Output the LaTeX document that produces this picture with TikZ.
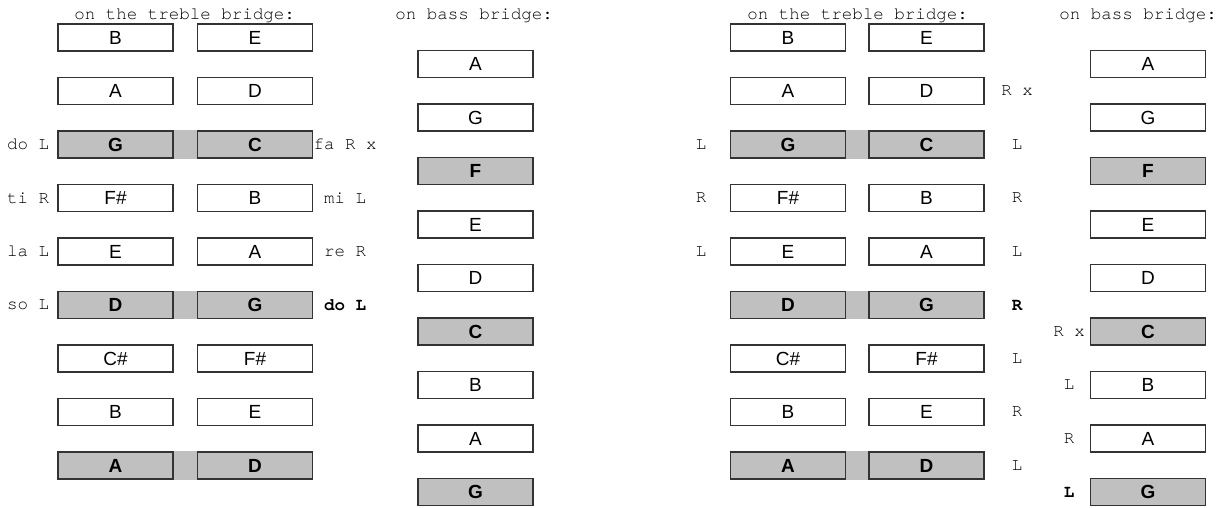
\documentclass[tikz,border=0pt]{standalone}
\usepackage{fontspec}
\setmainfont{Liberation Sans}
\newfontfamily\notefont{TeX Gyre Cursor}
\usetikzlibrary{positioning, backgrounds}
\definecolor{silver}{HTML}{C0C0C0}

\begin{document}
\begin{tikzpicture}[
        x=1pt, y=-1pt,
        node distance=53.5pt, on grid,
        bridgebox/.style={draw=black!80, line width=1.2pt, minimum width=115pt,
            minimum height=27pt, inner sep=0pt, font=\fontsize{19}{19}\selectfont},
        whitebox/.style={bridgebox, fill=white},
        graybox/.style={bridgebox, fill=silver, font=\fontsize{19}{19}\selectfont\bfseries},
        note/.style={inner sep=0pt, font=\notefont\fontsize{17.5}{18}\selectfont},
        boldnote/.style={note, font=\notefont\fontsize{17.5}{18}\selectfont\bfseries},
        title/.style={note, anchor=base}
    ]
    \useasboundingbox (0,0) rectangle (1218,508);

    % first tuning: treble bridge, left course
    \node[whitebox] (aL1) at (115.5,37.5) {B};
    \node[whitebox] (aL2) [below=of aL1] {A};
    \node[graybox]  (aL3) [below=of aL2] {G};
    \node[whitebox] (aL4) [below=of aL3] {F\#};
    \node[whitebox] (aL5) [below=of aL4] {E};
    \node[graybox]  (aL6) [below=of aL5] {D};
    \node[whitebox] (aL7) [below=of aL6] {C\#};
    \node[whitebox] (aL8) [below=of aL7] {B};
    \node[graybox]  (aL9) [below=of aL8] {A};

    % treble bridge, right course
    \node[whitebox] (aR1) at (255,37.5) {E};
    \node[whitebox] (aR2) [below=of aR1] {D};
    \node[graybox]  (aR3) [below=of aR2] {C};
    \node[whitebox] (aR4) [below=of aR3] {B};
    \node[whitebox] (aR5) [below=of aR4] {A};
    \node[graybox]  (aR6) [below=of aR5] {G};
    \node[whitebox] (aR7) [below=of aR6] {F\#};
    \node[whitebox] (aR8) [below=of aR7] {E};
    \node[graybox]  (aR9) [below=of aR8] {D};

    % bass bridge
    \node[whitebox] (aB1) at (475.5,64) {A};
    \node[whitebox] (aB2) [below=of aB1] {G};
    \node[graybox]  (aB3) [below=of aB2] {F};
    \node[whitebox] (aB4) [below=of aB3] {E};
    \node[whitebox] (aB5) [below=of aB4] {D};
    \node[graybox]  (aB6) [below=of aB5] {C};
    \node[whitebox] (aB7) [below=of aB6] {B};
    \node[whitebox] (aB8) [below=of aB7] {A};
    \node[graybox]  (aB9) [below=of aB8] {G};

    % second tuning: treble bridge, left course
    \node[whitebox] (bL1) at (788,37.5) {B};
    \node[whitebox] (bL2) [below=of bL1] {A};
    \node[graybox]  (bL3) [below=of bL2] {G};
    \node[whitebox] (bL4) [below=of bL3] {F\#};
    \node[whitebox] (bL5) [below=of bL4] {E};
    \node[graybox]  (bL6) [below=of bL5] {D};
    \node[whitebox] (bL7) [below=of bL6] {C\#};
    \node[whitebox] (bL8) [below=of bL7] {B};
    \node[graybox]  (bL9) [below=of bL8] {A};

    % treble bridge, right course
    \node[whitebox] (bR1) at (926.5,37.5) {E};
    \node[whitebox] (bR2) [below=of bR1] {D};
    \node[graybox]  (bR3) [below=of bR2] {C};
    \node[whitebox] (bR4) [below=of bR3] {B};
    \node[whitebox] (bR5) [below=of bR4] {A};
    \node[graybox]  (bR6) [below=of bR5] {G};
    \node[whitebox] (bR7) [below=of bR6] {F\#};
    \node[whitebox] (bR8) [below=of bR7] {E};
    \node[graybox]  (bR9) [below=of bR8] {D};

    % bass bridge
    \node[whitebox] (bB1) at (1148,64) {A};
    \node[whitebox] (bB2) [below=of bB1] {G};
    \node[graybox]  (bB3) [below=of bB2] {F};
    \node[whitebox] (bB4) [below=of bB3] {E};
    \node[whitebox] (bB5) [below=of bB4] {D};
    \node[graybox]  (bB6) [below=of bB5] {C};
    \node[whitebox] (bB7) [below=of bB6] {B};
    \node[whitebox] (bB8) [below=of bB7] {A};
    \node[graybox]  (bB9) [below=of bB8] {G};

    % gray bars joining the marked pairs
    \begin{scope}[on background layer]
        \fill[silver] (aL3.north east) rectangle (aR3.south west);
        \fill[silver] (aL6.north east) rectangle (aR6.south west);
        \fill[silver] (aL9.north east) rectangle (aR9.south west);
        \fill[silver] (bL3.north east) rectangle (bR3.south west);
        \fill[silver] (bL6.north east) rectangle (bR6.south west);
        \fill[silver] (bL9.north east) rectangle (bR9.south west);
    \end{scope}

    % headings
    \node[title] (aT) at (184.5,20) {on the treble bridge:};
    \node[title] (aS) at (474,20) {on bass bridge:};
    \node[title] (bT) at (857.5,20) {on the treble bridge:};
    \node[title] (bS) at (1138,20) {on bass bridge:};

    % hand marks, first tuning
    \node[note] (aw3) at (28,0 |- aL3) {do L};
    \node[note] (aw4) at (28,0 |- aL4) {ti R};
    \node[note] (aw5) at (28,0 |- aL5) {la L};
    \node[note] (aw6) at (28,0 |- aL6) {so L};
    \node[note] (ae3) at (345,0 |- aR3) {fa R x};
    \node[note] (ae4) at (345,0 |- aR4) {mi L};
    \node[note] (ae5) at (345,0 |- aR5) {re R};
    \node[boldnote] (ae6) at (345,0 |- aR6) {do L};

    % hand marks, second tuning
    \node[note] (bw3) at (701,0 |- bL3) {L};
    \node[note] (bw4) at (701,0 |- bL4) {R};
    \node[note] (bw5) at (701,0 |- bL5) {L};
    \node[note] (be2) at (1017,0 |- bR2) {R x};
    \node[note] (be3) at (1017,0 |- bR3) {L};
    \node[note] (be4) at (1017,0 |- bR4) {R};
    \node[note] (be5) at (1017,0 |- bR5) {L};
    \node[boldnote] (be6) at (1017,0 |- bR6) {R};
    \node[note] (be7) at (1017,0 |- bR7) {L};
    \node[note] (be8) at (1017,0 |- bR8) {R};
    \node[note] (be9) at (1017,0 |- bR9) {L};
    \node[note] (bs6) at (1069,0 |- bB6) {R x};
    \node[note] (bs7) at (1069,0 |- bB7) {L};
    \node[note] (bs8) at (1069,0 |- bB8) {R};
    \node[boldnote] (bs9) at (1069,0 |- bB9) {L};
\end{tikzpicture}
\end{document}
